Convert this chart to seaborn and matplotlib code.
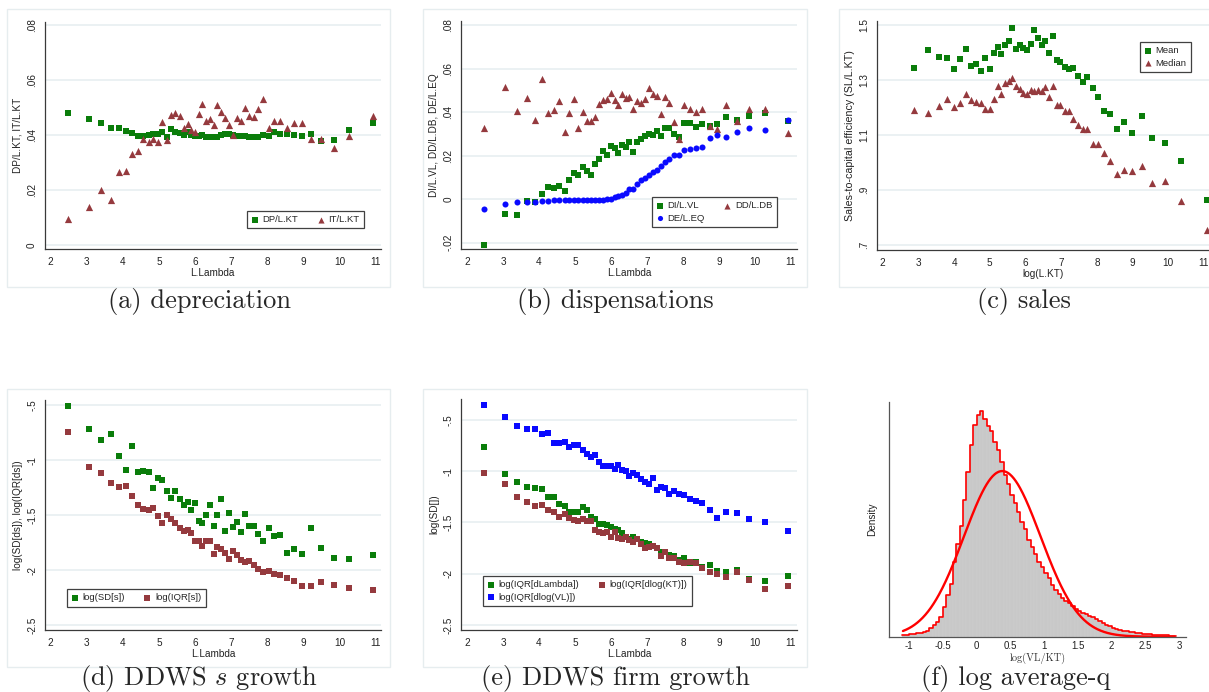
import numpy as np
import pandas as pd
import matplotlib
matplotlib.use("Agg")
import matplotlib.pyplot as plt
from matplotlib.patches import Rectangle
import seaborn as sns

sns.set_style("white")
plt.rcParams['font.family'] = ['Liberation Sans', 'DejaVu Sans']
plt.rcParams['mathtext.fontset'] = 'cm'

# ---------------- data ----------------
lam = [2.47, 3.05, 3.38, 3.66, 3.88, 4.08, 4.25, 4.41, 4.56, 4.71, 4.84, 4.97, 5.09, 5.21, 5.33,
       5.45, 5.57, 5.68, 5.79, 5.89, 6.00, 6.10, 6.20, 6.31, 6.41, 6.51, 6.62, 6.72, 6.83, 6.94,
       7.05, 7.16, 7.27, 7.38, 7.50, 7.62, 7.75, 7.89, 8.04, 8.19, 8.36, 8.54, 8.74, 8.96, 9.21,
       9.50, 9.84, 10.27, 10.93]

dp_kt = [.0481, .0458, .0445, .0427, .0427, .0416, .0408, .0398, .0398, .0400, .0404, .0404, .0411, .0394, .0422,
         .0411, .0407, .0401, .0410, .0400, .0396, .0395, .0401, .0394, .0392, .0392, .0392, .0399, .0402, .0405,
         .0400, .0398, .0395, .0395, .0394, .0393, .0393, .0401, .0396, .0411, .0404, .0404, .0401, .0398, .0404,
         .0379, .0383, .0419, .0445]
it_kt = [.0095, .0137, .0199, .0162, .0264, .0268, .0331, .0343, .0387, .0375, .0385, .0376, .0447, .0382, .0472,
         .0481, .0470, .0425, .0439, .0419, .0410, .0475, .0512, .0452, .0457, .0436, .0508, .0482, .0461, .0436,
         .0400, .0461, .0451, .0498, .0468, .0464, .0495, .0530, .0425, .0450, .0452, .0427, .0442, .0445, .0387,
         .0387, .0353, .0396, .0469]

di_vl = [-.0210, -.0066, -.0072, -.0006, -.0011, .0023, .0057, .0052, .0063, .0040, .0089, .0123, .0113, .0150, .0132,
         .0113, .0162, .0185, .0224, .0205, .0245, .0238, .0215, .0251, .0242, .0264, .0219, .0264, .0279, .0291,
         .0300, .0297, .0316, .0293, .0330, .0330, .0302, .0287, .0351, .0351, .0333, .0346, .0337, .0346, .0379,
         .0365, .0385, .0397, .0362]
dd_db = [.0328, .0518, .0408, .0466, .0366, .0555, .0397, .0409, .0454, .0311, .0397, .0460, .0328, .0402, .0362,
         .0362, .0379, .0437, .0458, .0463, .0489, .0458, .0432, .0484, .0467, .0470, .0415, .0451, .0443, .0461,
         .0513, .0483, .0474, .0394, .0472, .0441, .0356, .0279, .0435, .0415, .0402, .0417, .0336, .0322, .0434,
         .0360, .0415, .0415, .0307]
de_eq = [-.0044, -.0020, -.0012, -.0011, -.0011, -.0009, -.0006, -.0005, -.0003, -.0003, -.0002, -.0002, -.0002, -.0002, -.0002,
         -.0002, -.0002, -.0002, -.0001, .0000, .0003, .0009, .0017, .0018, .0031, .0049, .0046, .0069, .0089, .0097,
         .0113, .0126, .0133, .0152, .0173, .0184, .0204, .0204, .0228, .0231, .0234, .0242, .0284, .0294, .0287,
         .0308, .0328, .0320, .0365]

log_kt = [2.88, 3.27, 3.58, 3.79, 4.00, 4.17, 4.33, 4.47, 4.61, 4.75, 4.87, 5.01, 5.11, 5.23, 5.31,
          5.43, 5.54, 5.63, 5.73, 5.84, 5.94, 6.04, 6.15, 6.24, 6.35, 6.46, 6.56, 6.66, 6.77, 6.88,
          6.97, 7.11, 7.22, 7.33, 7.46, 7.60, 7.71, 7.89, 8.03, 8.20, 8.37, 8.56, 8.76, 8.98, 9.25,
          9.54, 9.91, 10.36, 11.08]
sales_mean = [1.346, 1.411, 1.386, 1.382, 1.342, 1.379, 1.415, 1.353, 1.360, 1.335, 1.382, 1.342, 1.400, 1.422, 1.397,
              1.430, 1.444, 1.492, 1.415, 1.430, 1.419, 1.411, 1.433, 1.484, 1.455, 1.430, 1.444, 1.400, 1.462, 1.375,
              1.368, 1.349, 1.342, 1.346, 1.317, 1.295, 1.313, 1.273, 1.240, 1.186, 1.178, 1.124, 1.149, 1.109, 1.171,
              1.091, 1.073, 1.007, 0.865]
sales_median = [1.193, 1.180, 1.205, 1.232, 1.204, 1.217, 1.250, 1.228, 1.221, 1.218, 1.194, 1.195, 1.232, 1.279, 1.248,
                1.289, 1.296, 1.309, 1.279, 1.267, 1.255, 1.249, 1.264, 1.261, 1.266, 1.262, 1.275, 1.240, 1.280, 1.210,
                1.210, 1.188, 1.188, 1.158, 1.135, 1.124, 1.124, 1.068, 1.068, 1.033, 1.006, 0.960, 0.973, 0.970, 0.987,
                0.927, 0.933, 0.861, 0.755]

sd_s = [-0.506, -0.715, -0.815, -0.761, -0.964, -1.088, -0.870, -1.106, -1.097, -1.106, -1.252, -1.161, -1.179, -1.279, -1.342,
        -1.279, -1.352, -1.406, -1.379, -1.452, -1.388, -1.552, -1.570, -1.497, -1.406, -1.597, -1.497, -1.352, -1.642, -1.479,
        -1.606, -1.561, -1.652, -1.488, -1.597, -1.597, -1.670, -1.733, -1.615, -1.688, -1.679, -1.842, -1.806, -1.852, -1.615,
        -1.797, -1.888, -1.897, -1.861]
iqr_s = [-0.742, -1.061, -1.115, -1.206, -1.242, -1.233, -1.324, -1.406, -1.442, -1.452, -1.433, -1.506, -1.570, -1.497, -1.533,
         -1.570, -1.615, -1.642, -1.633, -1.661, -1.733, -1.733, -1.779, -1.733, -1.733, -1.852, -1.788, -1.806, -1.842, -1.897,
         -1.824, -1.861, -1.906, -1.924, -1.915, -1.952, -1.988, -2.015, -2.006, -2.033, -2.042, -2.070, -2.097, -2.142, -2.142,
         -2.106, -2.133, -2.161, -2.179]

iqr_dlambda = [-0.763, -1.027, -1.102, -1.154, -1.163, -1.173, -1.248, -1.248, -1.320, -1.339, -1.394, -1.394, -1.394, -1.349, -1.375,
               -1.450, -1.469, -1.515, -1.515, -1.524, -1.547, -1.567, -1.573, -1.599, -1.638, -1.658, -1.645, -1.664, -1.687, -1.697,
               -1.710, -1.729, -1.752, -1.785, -1.791, -1.814, -1.830, -1.866, -1.846, -1.892, -1.882, -1.937, -1.915, -1.970, -1.986,
               -1.960, -2.051, -2.067, -2.022]
iqr_dlogkt = [-1.014, -1.121, -1.251, -1.300, -1.339, -1.329, -1.378, -1.398, -1.443, -1.414, -1.453, -1.472, -1.482, -1.463, -1.482,
              -1.482, -1.573, -1.589, -1.599, -1.589, -1.638, -1.593, -1.648, -1.664, -1.638, -1.674, -1.690, -1.658, -1.710, -1.752,
              -1.742, -1.729, -1.752, -1.824, -1.785, -1.850, -1.850, -1.889, -1.895, -1.889, -1.895, -1.944, -1.980, -2.006, -2.036,
              -1.986, -2.058, -2.146, -2.116]
iqr_dlogvl = [-0.354, -0.467, -0.559, -0.585, -0.585, -0.633, -0.624, -0.721, -0.721, -0.711, -0.760, -0.741, -0.741, -0.793, -0.832,
              -0.861, -0.841, -0.910, -0.949, -0.949, -0.949, -0.978, -0.939, -0.988, -0.998, -1.050, -1.017, -1.040, -1.079, -1.105,
              -1.128, -1.066, -1.180, -1.157, -1.167, -1.219, -1.189, -1.219, -1.228, -1.267, -1.287, -1.310, -1.375, -1.453, -1.398,
              -1.407, -1.466, -1.495, -1.583]

# histogram of log(VL/KT): bin starts every 0.05 from -1.10, density heights
hist_start = -1.10
hist_width = 0.05
hist_density = [0.007, 0.009, 0.010, 0.012, 0.014, 0.016, 0.019, 0.026, 0.036, 0.050,
                0.062, 0.085, 0.128, 0.177, 0.225, 0.320, 0.395, 0.470, 0.580, 0.700,
                0.815, 0.900, 0.945, 0.960, 0.925, 0.895, 0.875, 0.830, 0.795, 0.745,
                0.690, 0.650, 0.605, 0.570, 0.530, 0.490, 0.460, 0.410, 0.380, 0.352,
                0.320, 0.295, 0.270, 0.248, 0.222, 0.200, 0.182, 0.166, 0.152, 0.142,
                0.130, 0.118, 0.108, 0.102, 0.096, 0.090, 0.084, 0.076, 0.068, 0.058,
                0.050, 0.044, 0.039, 0.034, 0.030, 0.026, 0.023, 0.020, 0.018, 0.016,
                0.014, 0.012, 0.011, 0.010, 0.0085, 0.0078, 0.007, 0.0065, 0.006, 0.005,
                0.004]
normal_mu = 0.38
normal_sd = 0.566

captions = ["(a) depreciation", "(b) dispensations", "(c) sales",
            r"(d) DDWS $s$ growth", "(e) DDWS firm growth", "(f) log average-q"]

# ---------------- style ----------------
GREEN = '#0a7d0a'
MAROON = '#953a3e'
BLUE = '#0a0aff'
GRID = '#e6eef0'
AXC = '#3a3a3a'
W, H = 1209, 692

fig = plt.figure(figsize=(W / 100, H / 100), dpi=100)


def px_axes(l, r, t, b):
    return fig.add_axes([l / W, 1 - b / H, (r - l) / W, (b - t) / H])


def stata_style(ax, xlim, ylim, yt, ylab, xlabel, ylabel):
    ax.set_xlim(*xlim)
    ax.set_ylim(*ylim)
    ax.set_xticks(range(2, 12), [str(v) for v in range(2, 12)])
    ax.set_yticks(yt, ylab)
    plt.setp(ax.get_yticklabels(), rotation=90, va='center')
    for s in ['top', 'right']:
        ax.spines[s].set_visible(False)
    for s in ['left', 'bottom']:
        ax.spines[s].set_color(AXC)
        ax.spines[s].set_linewidth(0.9)
    ax.grid(axis='y', color=GRID, lw=1.1)
    ax.grid(axis='x', visible=False)
    ax.set_axisbelow(True)
    ax.tick_params(direction='out', length=3.5, width=0.8, color=AXC,
                   labelsize=7.2, labelcolor='#222222', pad=2)
    ax.set_xlabel(xlabel, fontsize=7.2, labelpad=1, color='#222222')
    ax.set_ylabel(ylabel, fontsize=7.2, labelpad=3, color='#222222')


def frame(l, r, t, b):
    fig.add_artist(Rectangle((l / W, 1 - b / H), (r - l) / W, (b - t) / H,
                             transform=fig.transFigure, fill=False, ec='#e6edef', lw=1.0))


def stata_legend(ax, handles, labels, ncol, x, y):
    leg = ax.legend(handles, labels, ncol=ncol, loc='upper left',
                    bbox_to_anchor=(x / W, 1 - y / H), bbox_transform=fig.transFigure,
                    borderaxespad=0, fancybox=False, frameon=True, fontsize=6.8,
                    handlelength=0.7, handletextpad=0.5, columnspacing=2.0,
                    borderpad=0.45, labelspacing=0.35, markerscale=0.85)
    leg.get_frame().set_edgecolor('#111111')
    leg.get_frame().set_linewidth(0.9)
    return leg


MS = 23
MT = 27

for f in [(7, 390, 9, 287), (423, 807, 9, 287), (839, 1230, 9, 287),
          (7, 390, 389, 667), (423, 807, 389, 667)]:
    frame(*f)

# ---- (a) ----
ax = px_axes(44.5, 381, 22, 249)
sns.scatterplot(x=lam, y=dp_kt, marker='s', color=GREEN, s=MS, linewidth=0, ax=ax, label='DP/L.KT')
sns.scatterplot(x=lam, y=it_kt, marker='^', color=MAROON, s=MT, linewidth=0, ax=ax, label='IT/L.KT')
stata_style(ax, (1.828, 11.15), (-0.00145, 0.0811), [0, .02, .04, .06, .08],
            ['0', '.02', '.04', '.06', '.08'], 'L.Lambda', 'DP/L.KT, IT/L.KT')
h, l = ax.get_legend_handles_labels()
stata_legend(ax, h, l, 2, 247, 211)

# ---- (b) ----
ax = px_axes(461, 797, 21, 249)
sns.scatterplot(x=lam, y=di_vl, marker='s', color=GREEN, s=MS, linewidth=0, ax=ax, label='DI/L.VL')
sns.scatterplot(x=lam, y=dd_db, marker='^', color=MAROON, s=MT, linewidth=0, ax=ax, label='DD/L.DB')
sns.scatterplot(x=lam, y=de_eq, marker='o', color=BLUE, s=19, linewidth=0, ax=ax, label='DE/L.EQ')
stata_style(ax, (1.833, 11.17), (-0.02285, 0.0820), [-.02, 0, .02, .04, .06, .08],
            ['-.02', '0', '.02', '.04', '.06', '.08'], 'L.Lambda', 'DI/L.VL, DD/L.DB, DE/L.EQ')
h, l = ax.get_legend_handles_labels()
stata_legend(ax, [h[0], h[2], h[1]], [l[0], l[2], l[1]], 2, 652, 197)

# ---- (c) ----
ax = px_axes(876.7, 1209, 21, 250)
sns.scatterplot(x=log_kt, y=sales_mean, marker='s', color=GREEN, s=MS, linewidth=0, ax=ax, label='Mean')
sns.scatterplot(x=log_kt, y=sales_median, marker='^', color=MAROON, s=MT, linewidth=0, ax=ax, label='Median')
stata_style(ax, (1.832, 11.14), (0.6814, 1.5157), [.7, .9, 1.1, 1.3, 1.5],
            ['.7', '.9', '1.1', '1.3', '1.5'], 'log(L.KT)', 'Sales-to-capital efficiency (SL/L.KT)')
ax.yaxis.label.set_size(7.7)
h, l = ax.get_legend_handles_labels()
stata_legend(ax, h, l, 1, 1140, 42)

# ---- (d) ----
ax = px_axes(45, 381, 400, 630)
sns.scatterplot(x=lam, y=sd_s, marker='s', color=GREEN, s=MS, linewidth=0, ax=ax, label='log(SD[s])')
sns.scatterplot(x=lam, y=iqr_s, marker='s', color=MAROON, s=MS, linewidth=0, ax=ax, label='log(IQR[s])')
stata_style(ax, (1.842, 11.15), (-2.545, -0.4545), [-2.5, -2, -1.5, -1, -.5],
            ['-2.5', '-2', '-1.5', '-1', '-.5'], 'L.Lambda', 'log(SD[ds]), log(IQR[ds])')
h, l = ax.get_legend_handles_labels()
stata_legend(ax, h, l, 2, 67, 589)

# ---- (e) ----
ax = px_axes(461, 797, 399, 630)
sns.scatterplot(x=lam, y=iqr_dlambda, marker='s', color=GREEN, s=MS, linewidth=0, ax=ax, label='log(IQR[dLambda])')
sns.scatterplot(x=lam, y=iqr_dlogkt, marker='s', color=MAROON, s=MS, linewidth=0, ax=ax, label='log(IQR[dlog(KT)])')
sns.scatterplot(x=lam, y=iqr_dlogvl, marker='s', color=BLUE, s=MS, linewidth=0, ax=ax, label='log(IQR[dlog(VL)])')
stata_style(ax, (1.833, 11.17), (-2.549, -0.295), [-2.5, -2, -1.5, -1, -.5],
            ['-2.5', '-2', '-1.5', '-1', '-.5'], 'L.Lambda', 'log(SD[])')
h, l = ax.get_legend_handles_labels()
stata_legend(ax, [h[0], h[2], h[1]], [l[0], l[2], l[1]], 2, 483, 576)

# ---- (f) ----
ax = px_axes(889.3, 1186, 401.7, 636.7)
edges = [hist_start + hist_width * i for i in range(len(hist_density) + 1)]
centers = [e + hist_width / 2 for e in edges[:-1]]
hist_df = pd.DataFrame({'logq': centers, 'density': hist_density})
sns.histplot(data=hist_df, x='logq', weights='density', bins=edges, stat='count', color='#c8c8c8',
             edgecolor='#d6d6d6', linewidth=0.2, alpha=1, ax=ax)
sns.histplot(data=hist_df, x='logq', weights='density', bins=edges, stat='count', element='step',
             fill=False, color='red', linewidth=1.2, ax=ax)
xs = np.linspace(edges[0] + 0.01, edges[-1] - 0.02, 400)
ys = np.exp(-0.5 * ((xs - normal_mu) / normal_sd) ** 2) / (normal_sd * np.sqrt(2 * np.pi))
sns.lineplot(x=xs, y=ys, color='red', linewidth=1.7, ax=ax)
ax.set_xlim(-1.292, 3.10)
ax.set_ylim(0, 1.0)
ax.set_xticks([-1, -0.5, 0, 0.5, 1, 1.5, 2, 2.5, 3],
              ['-1', '-0.5', '0', '0.5', '1', '1.5', '2', '2.5', '3'])
ax.set_yticks(np.arange(0, 1.001, 0.1), [''] * 11)
for s in ['top', 'right']:
    ax.spines[s].set_visible(False)
for s in ['left', 'bottom']:
    ax.spines[s].set_color('#555555')
    ax.spines[s].set_linewidth(0.9)
ax.grid(False)
ax.tick_params(direction='in', length=3, width=0.8, color='#555555', labelsize=7, labelcolor='#222222', pad=3)
ax.set_ylabel('Density', fontsize=7.2, labelpad=6, color='#222222')
ax.set_xlabel('log(VL/KT)', fontsize=7.5, family='cmr10', labelpad=1, color='#333333')

# ---- captions ----
cap_pos = [(200, 308), (615, 308), (1024, 308), (199, 685), (615, 685), (1016, 685)]
for (cx, cy), txt in zip(cap_pos, captions):
    fig.text(cx / W, 1 - cy / H, txt, ha='center', va='baseline', family='cmr10', fontsize=19)

fig.savefig('out.png', dpi=100)
